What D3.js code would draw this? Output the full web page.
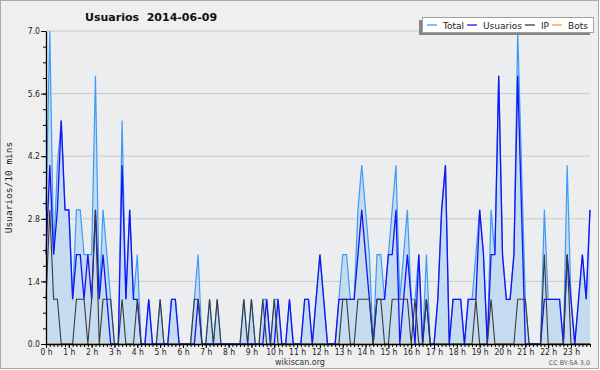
<!DOCTYPE html>
<html>
<head>
<meta charset="utf-8">
<script src="https://cdn.jsdelivr.net/npm/d3@7"></script>
<style>
body { margin: 0; background: #fff; }
svg { display: block; }
</style>
</head>
<body>
<div id="chart"></div>
<script>
// Values per 10 minutes, 144 slots from 0:00 to 23:50
const total = [
    3, 7, 2, 4, 5, 3, 3, 1, 3, 3, 2, 2,
    2, 6, 1, 3, 2, 1, 0, 0, 5, 1, 3, 1,
    2, 0, 0, 1, 0, 0, 1, 0, 0, 1, 1, 0,
    0, 0, 0, 1, 2, 0, 0, 1, 0, 1, 0, 0,
    0, 0, 0, 0, 1, 0, 1, 0, 0, 1, 1, 0,
    1, 1, 0, 0, 1, 0, 0, 0, 1, 1, 0, 1,
    2, 1, 0, 0, 0, 1, 2, 2, 1, 1, 3, 4,
    3, 2, 0, 2, 2, 1, 2, 3, 4, 1, 2, 3,
    1, 1, 2, 0, 2, 0, 0, 1, 3, 4, 0, 1,
    1, 1, 0, 1, 1, 2, 3, 2, 0, 3, 2, 6,
    2, 1, 1, 2, 7, 4, 1, 0, 0, 0, 0, 3,
    1, 1, 1, 1, 0, 4, 1, 0, 1, 2, 1, 3
];
const usuarios = [
    2, 4, 2, 3, 5, 3, 3, 1, 2, 2, 1, 2,
    1, 3, 1, 2, 1, 0, 0, 0, 4, 1, 3, 1,
    1, 0, 0, 1, 0, 0, 0, 0, 0, 1, 1, 0,
    0, 0, 0, 0, 1, 0, 0, 0, 0, 0, 0, 0,
    0, 0, 0, 0, 0, 0, 0, 0, 0, 0, 1, 0,
    0, 1, 0, 0, 1, 0, 0, 0, 1, 1, 0, 1,
    2, 1, 0, 0, 0, 1, 1, 1, 1, 1, 2, 3,
    2, 1, 0, 1, 1, 1, 2, 2, 3, 0, 1, 2,
    1, 0, 2, 0, 1, 0, 0, 1, 3, 4, 0, 1,
    1, 1, 0, 1, 1, 1, 3, 2, 0, 2, 2, 6,
    2, 1, 1, 2, 6, 3, 0, 0, 0, 0, 0, 1,
    1, 1, 1, 1, 0, 2, 1, 0, 1, 2, 1, 3
];
const ip = [
    1, 3, 1, 1, 0, 0, 0, 0, 1, 1, 1, 0,
    1, 3, 0, 1, 1, 1, 0, 0, 1, 0, 0, 0,
    1, 0, 0, 0, 0, 0, 1, 0, 0, 0, 0, 0,
    0, 0, 0, 1, 1, 0, 0, 1, 0, 1, 0, 0,
    0, 0, 0, 0, 1, 0, 1, 0, 0, 1, 0, 0,
    1, 0, 0, 0, 0, 0, 0, 0, 0, 0, 0, 0,
    0, 0, 0, 0, 0, 0, 1, 1, 0, 0, 1, 1,
    1, 1, 0, 1, 1, 0, 0, 1, 1, 1, 1, 1,
    0, 1, 0, 0, 1, 0, 0, 0, 0, 0, 0, 0,
    0, 0, 0, 0, 0, 1, 0, 0, 0, 1, 0, 0,
    0, 0, 0, 0, 1, 1, 1, 0, 0, 0, 0, 2,
    0, 0, 0, 0, 0, 2, 0, 0, 0, 0, 0, 0
];
const bots = [
    0, 0, 0, 0, 0, 0, 0, 0, 0, 0, 0, 0,
    0, 0, 0, 0, 0, 0, 0, 0, 0, 0, 0, 0,
    0, 0, 0, 0, 0, 0, 0, 0, 0, 0, 0, 0,
    0, 0, 0, 0, 0, 0, 0, 0, 0, 0, 0, 0,
    0, 0, 0, 0, 0, 0, 0, 0, 0, 0, 0, 0,
    0, 0, 0, 0, 0, 0, 0, 0, 0, 0, 0, 0,
    0, 0, 0, 0, 0, 0, 0, 0, 0, 0, 0, 0,
    0, 0, 0, 0, 0, 0, 0, 0, 0, 0, 0, 0,
    0, 0, 0, 0, 0, 0, 0, 0, 0, 0, 0, 0,
    0, 0, 0, 0, 0, 0, 0, 0, 0, 0, 0, 0,
    0, 0, 0, 0, 0, 0, 0, 0, 0, 0, 0, 0,
    0, 0, 0, 0, 0, 0, 0, 0, 0, 0, 0, 0
];

const hourLabels = ["0 h", "1 h", "2 h", "3 h", "4 h", "5 h", "6 h", "7 h", "8 h", "9 h", "10 h", "11 h",
    "12 h", "13 h", "14 h", "15 h", "16 h", "17 h", "18 h", "19 h", "20 h", "21 h", "22 h", "23 h"];
const yTicks = [0, 1.4, 2.8, 4.2, 5.6, 7.0];
const seriesNames = ["Total", "Usuarios", "IP", "Bots"];

// Layout
const W = 600, H = 370;
const margin = { top: 31, right: 10, bottom: 26, left: 46 };
const width = W - margin.left - margin.right;
const height = H - margin.top - margin.bottom;

const colors = { Total: "#3d9bf5", Usuarios: "#1414f5", IP: "#3a3a3a", Bots: "#ffa500" };
const labelFont = "'DejaVu Sans Condensed', 'DejaVu Sans', sans-serif";

const svg = d3.select("#chart")
    .append("svg")
    .attr("width", W)
    .attr("height", H);

// page background and frame
svg.append("rect")
    .attr("x", 0.5).attr("y", 0.5)
    .attr("width", W - 2).attr("height", H - 2)
    .attr("fill", "#efefef")
    .attr("stroke", "#aaaaaa");

const g = svg.append("g")
    .attr("transform", `translate(${margin.left},${margin.top})`);

g.append("rect")
    .attr("width", width).attr("height", height)
    .attr("fill", "#ecedef");

// Scales (x = 10-minute slot index)
const x = d3.scaleLinear().domain([0, total.length - 1]).range([0, width]);
const y = d3.scaleLinear().domain([0, 7]).range([height, 0]);

// Grid lines
g.selectAll(".grid")
    .data(yTicks.slice(1))
    .enter().append("line")
    .attr("class", "grid")
    .attr("x1", 0).attr("x2", width)
    .attr("y1", d => y(d)).attr("y2", d => y(d))
    .attr("stroke", "#c9c9c9")
    .attr("stroke-width", 1);

// Area under total
const area = d3.area()
    .x((d, i) => x(i))
    .y0(height)
    .y1(d => y(d));

g.append("path")
    .datum(total)
    .attr("d", area)
    .attr("fill", "#c5dbf0");

const line = d3.line()
    .x((d, i) => x(i))
    .y(d => y(d));

const series = [
    { name: "Bots", values: bots, w: 1 },
    { name: "Total", values: total, w: 1.2 },
    { name: "Usuarios", values: usuarios, w: 1.3 },
    { name: "IP", values: ip, w: 1.1 }
];

series.forEach(s => {
    g.append("path")
        .datum(s.values)
        .attr("d", line)
        .attr("fill", "none")
        .attr("stroke", colors[s.name])
        .attr("stroke-width", s.w)
        .attr("stroke-linejoin", "miter");
});

// X axis: minor ticks every 10 min, major every hour
g.append("g")
    .attr("transform", `translate(0,${height})`)
    .call(d3.axisBottom(x).tickValues(d3.range(0, total.length)).tickSize(3).tickSizeOuter(0).tickFormat(""))
    .call(a => a.select(".domain").remove());

const xAxis = g.append("g")
    .attr("transform", `translate(0,${height})`)
    .call(d3.axisBottom(x)
        .tickValues(d3.range(0, total.length, 6))
        .tickSize(4)
        .tickSizeOuter(0)
        .tickPadding(1)
        .tickFormat((d, i) => hourLabels[i]));
xAxis.selectAll("text")
    .attr("font-family", labelFont)
    .attr("font-size", "8.5px")
    .attr("fill", "#222");
xAxis.select(".domain").attr("stroke-width", 1.3);

// Y axis: minor ticks and labelled ticks
g.append("g")
    .call(d3.axisLeft(y).tickValues(d3.range(0, 7.01, 0.35)).tickSize(3).tickSizeOuter(0).tickFormat(""))
    .call(a => a.select(".domain").remove());

const yAxis = g.append("g")
    .call(d3.axisLeft(y)
        .tickValues(yTicks)
        .tickSize(5)
        .tickSizeOuter(0)
        .tickPadding(1)
        .tickFormat(d3.format(".1f")));
yAxis.selectAll("text")
    .attr("font-family", labelFont)
    .attr("font-size", "8.5px")
    .attr("fill", "#222");
yAxis.select(".domain").attr("stroke-width", 1.3);

// Y axis title
svg.append("text")
    .attr("transform", `translate(12,${margin.top + height / 2}) rotate(-90)`)
    .attr("text-anchor", "middle")
    .attr("font-family", "'DejaVu Sans Mono', monospace")
    .attr("font-size", "9.5px")
    .attr("fill", "#222")
    .text("Usuarios/10 mins");

// Title
svg.append("text")
    .attr("x", 85)
    .attr("y", 21)
    .attr("font-family", "'DejaVu Sans', sans-serif")
    .attr("font-size", "11px")
    .attr("font-weight", "bold")
    .attr("fill", "#111")
    .style("white-space", "pre")
    .text("Usuarios  2014-06-09");

// Footer
svg.append("text")
    .attr("x", 300)
    .attr("y", 365)
    .attr("text-anchor", "middle")
    .attr("font-family", "'DejaVu Sans', sans-serif")
    .attr("font-size", "8px")
    .attr("fill", "#333")
    .text("wikiscan.org");

svg.append("text")
    .attr("x", 590)
    .attr("y", 365)
    .attr("text-anchor", "end")
    .attr("font-family", "'DejaVu Sans', sans-serif")
    .attr("font-size", "6.4px")
    .attr("fill", "#555")
    .text("CC BY-SA 3.0");

// Legend
const legend = svg.append("g");
const lx = 422, ly = 17, lw = 171, lh = 15;
legend.append("rect")
    .attr("x", lx - 3).attr("y", ly + 3)
    .attr("width", lw).attr("height", lh)
    .attr("fill", "#858585");
legend.append("rect")
    .attr("x", lx + 0.5).attr("y", ly + 0.5)
    .attr("width", lw).attr("height", lh)
    .attr("fill", "#fff")
    .attr("stroke", "#a0a0a0");

let cursor = lx + 5;
seriesNames.forEach(name => {
    legend.append("line")
        .attr("x1", cursor).attr("x2", cursor + 10)
        .attr("y1", ly + 8).attr("y2", ly + 8)
        .attr("stroke", colors[name])
        .attr("stroke-width", 1.3);
    const t = legend.append("text")
        .attr("x", cursor + 16)
        .attr("y", ly + 11.5)
        .attr("font-family", "'DejaVu Sans', sans-serif")
        .attr("font-size", "9px")
        .attr("fill", "#222")
        .text(name);
    cursor = cursor + 16 + t.node().getComputedTextLength() + 3;
});
</script>
</body>
</html>
